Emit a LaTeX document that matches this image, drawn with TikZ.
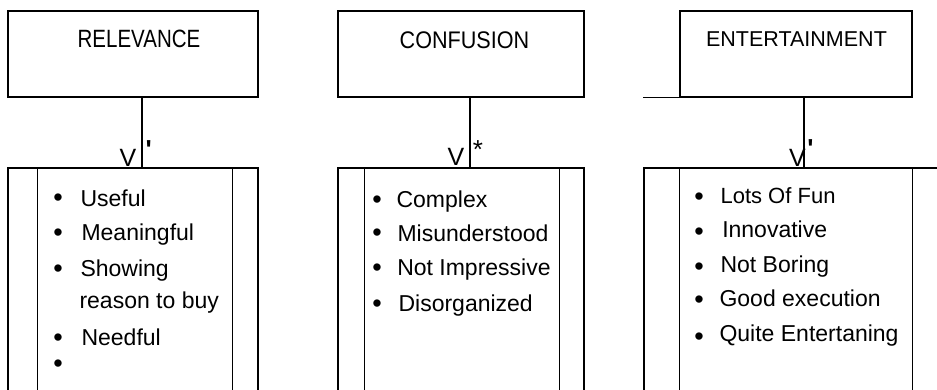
\documentclass[tikz,border=0pt]{standalone}
\usepackage{fontspec}
\setmainfont{Liberation Sans}
\usetikzlibrary{positioning}

\tikzset{
  catbox/.style={draw, line width=1.1pt, minimum height=86pt, inner sep=0pt},
  catframe/.style={draw, line width=1.1pt, minimum height=300pt, inner sep=0pt},
  cattitle/.style={anchor=base, inner sep=0pt},
  item/.style={anchor=base west, inner sep=0pt, font=\fontsize{23}{27}\selectfont},
  dot/.style={anchor=base, inner sep=0pt, font=\fontsize{27}{31}\selectfont},
  tagV/.style={anchor=base, inner sep=0pt, font=\fontsize{25}{29}\selectfont},
  tick/.style={anchor=north, inner sep=0pt, font=\fontsize{26}{30}\selectfont\bfseries}
}

\begin{document}
\begin{tikzpicture}[x=1pt, y=-1pt, line width=1.1pt]
\useasboundingbox (0,0) rectangle (937,389);
\clip (0,0) rectangle (937,389);

% top boxes
\node[catbox, minimum width=250pt] (relbox) at (133,54) {};
\node[catbox, minimum width=246pt] (conbox) at (461,54) {};
\node[catbox, minimum width=232pt] (entbox) at (796,54) {};
\node[cattitle, font=\fontsize{25}{29}\selectfont] (reltitle) at (139,47.3) {\scalebox{0.82}[1]{RELEVANCE}};
\node[cattitle, font=\fontsize{24}{28}\selectfont] (contitle) at (464.5,48.3) {\scalebox{0.9}[1]{CONFUSION}};
\node[cattitle, font=\fontsize{21.5}{25}\selectfont] (enttitle) at (796.5,46.7) {ENTERTAINMENT};

% bottom frames
\node[catframe, minimum width=250pt] (relframe) at (133,318) {};
\node[catframe, minimum width=246pt] (conframe) at (461,318) {};
\node[catframe, minimum width=304pt] (entframe) at (796,318) {};
\draw ([xshift=30pt]relframe.north west) -- ([xshift=30pt]relframe.south west);
\draw ([xshift=-26pt]relframe.north east) -- ([xshift=-26pt]relframe.south east);
\draw ([xshift=27pt]conframe.north west) -- ([xshift=27pt]conframe.south west);
\draw ([xshift=-25pt]conframe.north east) -- ([xshift=-25pt]conframe.south east);
\draw (entbox.south west |- entframe.north) -- (entbox.south west |- entframe.south);
\draw (entbox.south east |- entframe.north) -- (entbox.south east |- entframe.south);
\draw (entbox.south west) -- (entbox.south west -| entframe.west);

% connectors
\draw ([xshift=9pt]relbox.south) -- ([xshift=9pt]relbox.south |- relframe.north);
\draw ([xshift=9pt]conbox.south) -- ([xshift=9pt]conbox.south |- conframe.north);
\draw ([xshift=8pt]entbox.south) -- ([xshift=8pt]entbox.south |- entframe.north);
\node[tagV] (relV) at (128,166.7) {V};
\node[tagV] (conV) at (456,165) {V};
\node[tagV] (entV) at (797.5,166.7) {V};
\node[tick] (reltick) at (148.7,140) {\textquotesingle};
\node[tick, font=\fontsize{26}{30}\selectfont] (constar) at (478,140) {*};
\node[tick] (enttick) at (810.5,139.3) {\textquotesingle};

% relevance list
\node[dot] (reld1) at (58,206.7) {\textbullet};
\node[item] (reli1) at (80,206) {Useful};
\node[dot] (reld2) at (58,241.7) {\textbullet};
\node[item] (reli2) at (81,240.7) {Meaningful};
\node[dot] (reld3) at (58,277) {\textbullet};
\node[item] (reli3) at (80,276.5) {Showing};
\node[item] (reli4) at (79,308) {reason to buy};
\node[dot] (reld5) at (58,346) {\textbullet};
\node[item] (reli5) at (81,345) {Needful};
\node[dot] (reld6) at (58,372.7) {\textbullet};

% confusion list
\node[dot] (cond1) at (377,208.3) {\textbullet};
\node[item] (coni1) at (396,207) {Complex};
\node[dot] (cond2) at (377,241.7) {\textbullet};
\node[item] (coni2) at (397,241.5) {Misunderstood};
\node[dot] (cond3) at (377,276) {\textbullet};
\node[item] (coni3) at (396.7,275) {Not Impressive};
\node[dot] (cond4) at (377,312.7) {\textbullet};
\node[item] (coni4) at (398,311.7) {Disorganized};

% entertainment list
\node[dot] (entd1) at (699,205) {\textbullet};
\node[item, font=\fontsize{22}{26}\selectfont] (enti1) at (720,203) {Lots Of Fun};
\node[dot] (entd2) at (699,240) {\textbullet};
\node[item] (enti2) at (721.7,237) {Innovative};
\node[dot] (entd3) at (699,275) {\textbullet};
\node[item] (enti3) at (720,272.5) {Not Boring};
\node[dot] (entd4) at (699,308.3) {\textbullet};
\node[item] (enti4) at (719,306.5) {Good execution};
\node[dot] (entd5) at (699,345) {\textbullet};
\node[item] (enti5) at (719,341) {Quite Entertaning};
\end{tikzpicture}
\end{document}
